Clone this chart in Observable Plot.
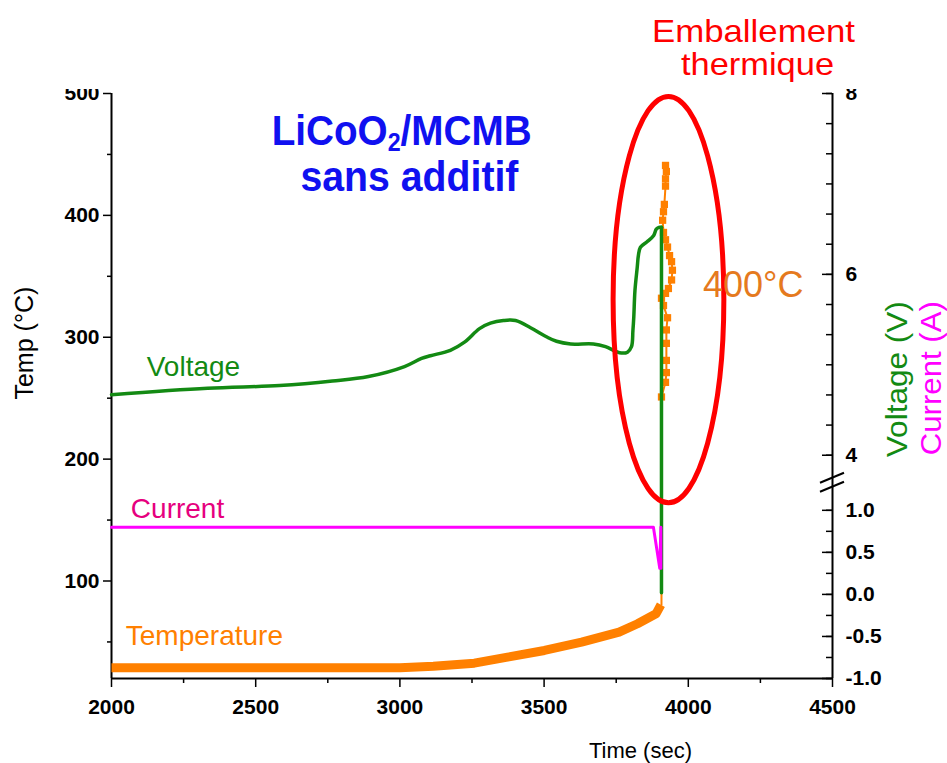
<!DOCTYPE html>
<html><head><meta charset="utf-8">
<script src="https://cdn.jsdelivr.net/npm/d3@7"></script>
<script src="https://cdn.jsdelivr.net/npm/@observablehq/plot@0.6"></script>
<style>html,body{margin:0;padding:0;background:#fff;overflow:hidden}#chart svg{display:block}</style>
</head><body><div id="chart"></div>
<script>
// ---- axis ticks ----
const xTicks = [2000, 2500, 3000, 3500, 4000, 4500];
const xMinorTicks = [2250, 2750, 3250, 3750, 4250];
const tempTicks = [100, 200, 300, 400, 500];
const tempMinorTicks = [50, 150, 250, 350, 450];
const voltTicks = [4, 6, 8];
const currTicks = [-1.0, -0.5, 0.0, 0.5, 1.0];

// ---- series (time in s) ----
const voltTime = [2000, 2333, 2583, 2766, 2891, 3016, 3075, 3106, 3175, 3224, 3276, 3314, 3359, 3401, 3453, 3508, 3543, 3592, 3671, 3713, 3748, 3768, 3789, 3803, 3808, 3811, 3815, 3823, 3827, 3834, 3857, 3880, 3889, 3898, 3907, 3907];
const voltVal  = [4.67, 4.74, 4.77, 4.82, 4.87, 4.98, 5.07, 5.10, 5.16, 5.25, 5.40, 5.46, 5.49, 5.49, 5.41, 5.31, 5.26, 5.23, 5.23, 5.20, 5.15, 5.13, 5.14, 5.20, 5.38, 5.53, 5.82, 6.08, 6.21, 6.30, 6.36, 6.43, 6.50, 6.52, 6.52, 2.48];

const currTime = [2000, 3879, 3901, 3905, 3905];
const currVal  = [0.80, 0.80, 0.31, 0.80, 0.31];

const tempTime = [2000, 2500, 3000, 3116, 3258, 3373, 3501, 3630, 3760, 3824, 3888, 3905];
const tempVal  = [28.8, 28.8, 28.8, 30.1, 32.6, 37.5, 43.0, 49.8, 58.0, 64.9, 73.1, 80.5];

const spikeTime = [3907, 3907, 3907, 3921, 3924, 3924, 3924, 3924, 3928, 3914, 3907, 3921, 3931, 3942, 3945, 3942, 3935, 3928, 3921, 3914, 3911, 3914, 3917, 3921, 3921, 3924, 3921];
const spikeVal  = [80.5, 160, 251, 263, 271, 281, 295, 306, 316, 326, 332, 336, 340, 347, 355, 362, 367, 374, 380, 386, 396, 403, 409, 424, 430, 436, 441];

// ---- annotations ----
const ellipseCenter = {time: 3933, temp: 330.5};
const ellipseHalf = {time: 192, temp: 166.7};
const axisBreakTemp = 180.6;

// right-axis calibration (voltage & current drawn on the temperature scale)
const voltToTemp = v => 500 - (8 - v) * 74.2;
const tempToVolt = t => 8 - (500 - t) / 74.2;
const currToTemp = i => 20 + (i + 1) * 69;
const tempToCurr = t => (t - 20) / 69 - 1;

const voltMinor = d3.range(0, 13).map(k => 4 + k / 3);
const currMinor = d3.range(-4, 5).map(k => k / 4);

const voltData = voltTime.map((t, i) => ({t, v: voltVal[i]}));
const voltSmooth = voltData.slice(0, -1);   // smooth part up to the peak
const voltDrop = voltData.slice(-2);        // sudden vertical drop
const currData = currTime.map((t, i) => ({t, v: currVal[i]}));
const tempData = tempTime.map((t, i) => ({t, v: tempVal[i]}));
const spikeData = spikeTime.map((t, i) => ({t, v: spikeVal[i]}));

const SVGNS = "http://www.w3.org/2000/svg";
function ellipseMark(index, scales) {
  const x = scales.x, y = scales.y;
  const cx = x(ellipseCenter.time), cy = y(ellipseCenter.temp);
  const rx = Math.abs(x(ellipseCenter.time + ellipseHalf.time) - cx);
  const ry = Math.abs(y(ellipseCenter.temp + ellipseHalf.temp) - cy);
  const e = document.createElementNS(SVGNS, "ellipse");
  e.setAttribute("cx", cx); e.setAttribute("cy", cy);
  e.setAttribute("rx", rx); e.setAttribute("ry", ry);
  e.setAttribute("fill", "none"); e.setAttribute("stroke", "#ff0000"); e.setAttribute("stroke-width", 5);
  return e;
}
function breakMark(index, scales) {
  const x0 = scales.x(4500), y0 = scales.y(axisBreakTemp);
  const g = document.createElementNS(SVGNS, "g");
  for (const off of [-4.5, 4.5]) {
    const l = document.createElementNS(SVGNS, "line");
    l.setAttribute("x1", x0 - 12); l.setAttribute("y1", y0 + off + 5);
    l.setAttribute("x2", x0 + 12); l.setAttribute("y2", y0 + off - 5);
    l.setAttribute("stroke", "#000"); l.setAttribute("stroke-width", 2);
    g.appendChild(l);
  }
  return g;
}
function topMask(index, scales, values, dims) {
  const r = document.createElementNS(SVGNS, "rect");
  r.setAttribute("x", 0); r.setAttribute("y", 0);
  r.setAttribute("width", dims.width); r.setAttribute("height", dims.marginTop - 4);
  r.setAttribute("fill", "#fff");
  return r;
}

const bold = {fontSize: 21, fontWeight: "bold"};
const ORANGE = "#ff8000", GREEN = "#138a13", MAGENTA = "#ff00ff";
const TITLE_FONT = "'Liberation Sans Narrow', 'Arial Narrow', 'Liberation Sans', sans-serif";

const chart = Plot.plot({
  width: 947, height: 763,
  marginLeft: 111, marginRight: 115, marginTop: 93, marginBottom: 85,
  x: {domain: [2000, 4500]},
  y: {domain: [20, 500]},
  style: {fontFamily: "'Liberation Sans', Arial, sans-serif", background: "#fff", color: "#000", overflow: "visible"},
  marks: [
    // x axis
    Plot.axisX({ticks: xMinorTicks, tickSize: 5, tickFormat: () => "", label: null, strokeWidth: 1.5}),
    Plot.axisX({ticks: xTicks, tickSize: 9, tickPadding: 12, tickFormat: d => String(d), label: null, strokeWidth: 1.5, ...bold}),
    // left axis
    Plot.axisY({anchor: "left", ticks: tempMinorTicks, tickSize: 4, tickFormat: () => "", label: null, strokeWidth: 1.5}),
    Plot.axisY({anchor: "left", ticks: tempTicks, tickSize: 8, tickPadding: 4, tickFormat: d => String(d), label: null, strokeWidth: 1.5, ...bold}),
    // right axis labels (voltage & current)
    Plot.axisY({anchor: "right", ticks: voltTicks.map(voltToTemp), tickSize: 0, tickPadding: 13,
      tickFormat: t => String(Math.round(tempToVolt(t))), label: null, ...bold}),
    Plot.axisY({anchor: "right", ticks: currTicks.map(currToTemp), tickSize: 0, tickPadding: 13,
      tickFormat: t => (Math.round(tempToCurr(t) * 2) / 2).toFixed(1), label: null, ...bold}),
    // right axis inward ticks
    Plot.ruleY(voltMinor.map(voltToTemp), {x1: 4500, x2: 4500, insetLeft: -6, strokeWidth: 1.5}),
    Plot.ruleY(voltTicks.map(voltToTemp), {x1: 4500, x2: 4500, insetLeft: -10, strokeWidth: 1.5}),
    Plot.ruleY(currMinor.map(currToTemp), {x1: 4500, x2: 4500, insetLeft: -6, strokeWidth: 1.5}),
    Plot.ruleY(currTicks.map(currToTemp), {x1: 4500, x2: 4500, insetLeft: -10, strokeWidth: 1.5}),
    // axis lines
    Plot.ruleX([2000], {strokeWidth: 2}),
    Plot.ruleX([4500], {strokeWidth: 2}),
    Plot.ruleY([20], {strokeWidth: 2}),
    breakMark,
    topMask,
    // series
    Plot.line(tempData, {x: "t", y: "v", stroke: ORANGE, strokeWidth: 9, strokeLinecap: "butt"}),
    Plot.line(spikeData, {x: "t", y: "v", stroke: ORANGE, strokeWidth: 2}),
    Plot.dot(spikeData.slice(2), {x: "t", y: "v", symbol: "square", r: 4.1, fill: ORANGE}),
    Plot.line(voltSmooth, {x: "t", y: d => voltToTemp(d.v), stroke: GREEN, strokeWidth: 3.5, curve: "catmull-rom"}),
    Plot.line(voltDrop, {x: "t", y: d => voltToTemp(d.v), stroke: GREEN, strokeWidth: 3.5}),
    Plot.line(currData, {x: "t", y: d => currToTemp(d.v), stroke: MAGENTA, strokeWidth: 3}),
    ellipseMark,
    // axis titles
    Plot.text(["Temp (°C)"], {x: 2000, y: 295.2, dx: -87, rotate: -90, fontSize: 25, fill: "#000"}),
    Plot.text(["Time (sec)"], {x: 3834, y: -39.5, fontSize: 22, fill: "#000"}),
    Plot.text(["Voltage (V)"], {x: 4500, y: 265.6, dx: 65, rotate: -90, fontSize: 29, fill: GREEN}),
    Plot.text(["Current (A)"], {x: 4500, y: 266.4, dx: 99, rotate: -90, fontSize: 29, fill: MAGENTA}),
    // series labels
    Plot.text(["Voltage"], {x: 2284, y: 275.4, fontSize: 28, fill: GREEN}),
    Plot.text(["Current"], {x: 2229, y: 158.8, fontSize: 28, fill: "#e6007e"}),
    Plot.text(["Temperature"], {x: 2322, y: 54.5, fontSize: 28, fill: ORANGE}),
    // annotations
    Plot.text(["LiCoO2/MCMB"], {x: 3006, y: 468.6, fontSize: 42, fontWeight: "bold", fill: "#1010f0", fontFamily: TITLE_FONT}),
    Plot.text(["sans additif"], {x: 3033, y: 431.0, fontSize: 42, fontWeight: "bold", fill: "#1010f0", fontFamily: TITLE_FONT}),
    Plot.text(["Emballement"], {x: 4226, y: 551.0, fontSize: 32, fill: "#ff0000"}),
    Plot.text(["thermique"], {x: 4240, y: 523.7, fontSize: 32, fill: "#ff0000"}),
    Plot.text(["400°C"], {x: 4225, y: 342.6, fontSize: 36, fill: "#e57a1e"})
  ]
});
document.getElementById("chart").appendChild(chart);

// fit some texts to the widths measured on the reference
const textWidths = {"LiCoO2/MCMB": 260, "sans additif": 218, "Emballement": 203, "thermique": 153,
  "Temp (°C)": 113, "Voltage (V)": 156, "Current (A)": 154};
d3.select(chart).selectAll("text").each(function () {
  const s = this.textContent;
  if (s in textWidths) {
    const t = d3.select(this);
    if (s === "LiCoO2/MCMB") {
      t.text(null);
      t.append("tspan").text("LiCoO");
      t.append("tspan").attr("font-size", "60%").attr("dy", "0.24em").text("2");
      t.append("tspan").attr("dy", "-0.144em").text("/MCMB");
    }
    t.attr("textLength", textWidths[s]).attr("lengthAdjust", "spacingAndGlyphs");
  }
});
</script>
</body></html>
